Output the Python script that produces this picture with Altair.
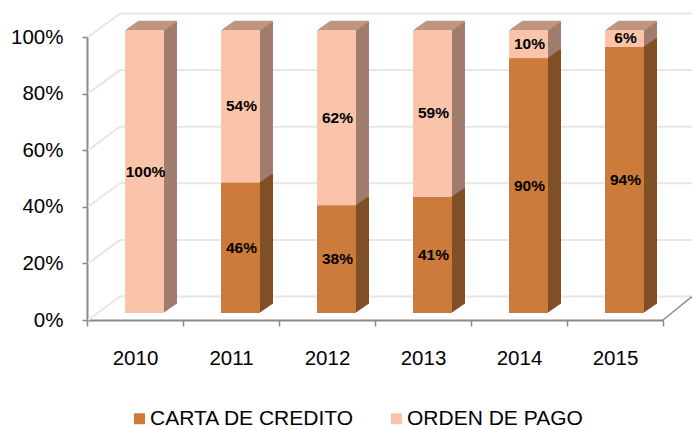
import altair as alt
import pandas as pd

anios = ["2010", "2011", "2012", "2013", "2014", "2015"]
series = ["CARTA DE CREDITO", "ORDEN DE PAGO"]
carta = [0, 46, 38, 41, 90, 94]
orden = [100, 54, 62, 59, 10, 6]
ticks = [0, 20, 40, 60, 80, 100]

front_colors = ["#CC7B3A", "#FAC4AA"]
side_colors = ["#805026", "#A07D6E"]
top_color = "#C09480"
grid_color = "#E6E6E6"
axis_color = "#8A8A8A"
FONT = "Liberation Sans"

rows = []
for i, a in enumerate(anios):
    rows.append({"anio": a, "serie": series[0], "orden": 0, "valor": carta[i]})
    rows.append({"anio": a, "serie": series[1], "orden": 1, "valor": orden[i]})
df = pd.DataFrame(rows)
grid_df = pd.DataFrame({"v": ticks})
top_df = pd.DataFrame({"anio": anios, "total": [c + o for c, o in zip(carta, orden)]})

W, H = 576, 283
BAR_W = 39
BX, BY = 9.5, -7          # front face offset from band centre / axis
DX, DY = 13, 9            # depth of the bars
WX, WY = 33, 23.5         # depth of the back wall
N = 9

x_axis = alt.Axis(title=None, labelAngle=0, labelAlign="center", tickBand="extent", tickSize=6,
                  labelPadding=22, labelFontSize=20.5, labelFont=FONT,
                  labelColor="#000000", domainColor=axis_color, tickColor=axis_color,
                  domainWidth=2, tickWidth=1.5, grid=False)
y_axis = alt.Axis(title=None, values=ticks, labelExpr="datum.value + '%'",
                  tickSize=5, labelPadding=19, labelFontSize=20.5, labelFont=FONT,
                  labelColor="#000000", domainColor=axis_color, tickColor=axis_color,
                  domainWidth=2, tickWidth=1.5, grid=False)

xsc = alt.Scale(domain=anios, paddingInner=0, paddingOuter=0)
ysc = alt.Scale(domain=[0, 100], nice=False)
xs = alt.X("anio:N", scale=xsc, axis=x_axis)


def Y(field):
    return alt.Y(field, scale=ysc, axis=y_axis)


base = alt.Chart(df).transform_stack(
    stack="valor", groupby=["anio"], as_=["y0", "y1"], sort=[alt.SortField("orden")]
)

layers = []

# back wall gridlines
layers.append(
    alt.Chart(grid_df).mark_rule(color=grid_color, strokeWidth=2, yOffset=-WY, y2Offset=-WY)
    .encode(x=alt.value(WX), x2=alt.value(W + 29), y=Y("v:Q"), y2="v:Q")
)
# left wall diagonals
layers.append(
    alt.Chart(grid_df).mark_rule(color=grid_color, strokeWidth=2, y2Offset=-WY)
    .encode(x=alt.value(1), x2=alt.value(WX), y=Y("v:Q"), y2="v:Q")
)
# floor right edge
layers.append(
    alt.Chart(grid_df).transform_filter("datum.v == 0")
    .mark_rule(color=axis_color, strokeWidth=1.5, y2Offset=-WY)
    .encode(x=alt.value(W), x2=alt.value(W + 29), y=Y("v:Q"), y2="v:Q")
)

# side faces (drawn back to front)
for k in range(N, 0, -1):
    ox = BX + k * DX / N
    oy = BY - k * DY / N
    layers.append(
        base.mark_bar(width=BAR_W, xOffset=ox, yOffset=oy, y2Offset=oy)
        .encode(
            x=xs,
            y=Y("y1:Q"),
            y2="y0:Q",
            color=alt.Color("serie:N", scale=alt.Scale(domain=series, range=side_colors), legend=None),
        )
    )

# top faces
for k in range(1, N + 1):
    ox = BX + k * DX / N
    oy = BY - k * DY / N + 0.5
    layers.append(
        alt.Chart(top_df).mark_tick(orient="horizontal", size=BAR_W, thickness=1.6,
                                    xOffset=ox, yOffset=oy, color=top_color, opacity=1)
        .encode(x=xs, y=Y("total:Q"))
    )

# front faces
layers.append(
    base.mark_bar(width=BAR_W, xOffset=BX, yOffset=BY, y2Offset=BY)
    .encode(
        x=xs,
        y=Y("y1:Q"),
        y2="y0:Q",
        color=alt.Color("serie:N", scale=alt.Scale(domain=series, range=front_colors),
                        legend=alt.Legend(title=None, orient="none", direction="horizontal",
                                          legendX=42, legendY=371, symbolType="square",
                                          symbolSize=121, symbolStrokeWidth=0,
                                          labelFontSize=21, labelFont=FONT, labelColor="#000000",
                                          labelOffset=0, labelLimit=400, columnPadding=31)),
        order=alt.Order("orden:Q"),
    )
)

# value labels
layers.append(
    base.transform_filter("datum.valor > 0")
    .transform_calculate(mid="(datum.y0 + datum.y1) / 2", lab="datum.valor + '%'")
    .mark_text(font=FONT, fontSize=15.5, fontWeight="bold", color="#000000", dx=BX + 1, dy=BY)
    .encode(x=xs, y=Y("mid:Q"), text="lab:N")
)

chart = alt.layer(*layers).resolve_scale(color="independent").properties(
    width=W, height=H,
    autosize=alt.AutoSizeParams(type="none"),
    padding={"left": 87, "top": 37, "right": 29, "bottom": 109},
).configure_view(stroke=None)

chart.save("out.html", embed_options={"renderer": "svg", "actions": False})
